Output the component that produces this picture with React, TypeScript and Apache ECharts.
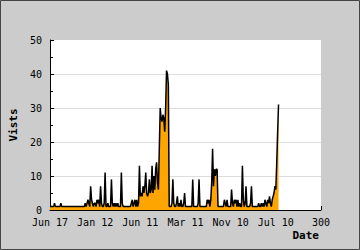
import React, { useEffect, useRef } from "react";
import * as echarts from "echarts";

// Daily visits (index = x position on the 0..300 axis)
const visits: number[] = [
  1, 1, 1, 1, 1, 2, 1, 1, 1, 1,
  1, 1, 2, 1, 1, 1, 1, 1, 1, 1,
  1, 1, 1, 1, 1, 1, 1, 1, 1, 1,
  1, 1, 1, 1, 1, 1, 1, 1, 1, 2,
  1, 2, 3, 2, 1, 7, 3, 2, 1, 2,
  2, 1, 3, 2, 3, 1, 7, 2, 1, 1,
  2, 11, 1, 1, 2, 1, 1, 1, 9, 2,
  1, 2, 1, 2, 1, 2, 1, 1, 1, 11,
  2, 1, 1, 1, 1, 1, 1, 1, 1, 1,
  2, 3, 1, 2, 3, 1, 3, 1, 2, 13,
  4, 5, 4, 7, 5, 7, 11, 5, 4, 5,
  9, 5, 6, 13, 5, 10, 6, 12, 14, 8,
  6, 18, 30, 27, 26, 28, 27, 23, 30, 41,
  40, 37, 1, 1, 1, 2, 9, 2, 1, 1,
  2, 4, 1, 2, 1, 3, 1, 1, 2, 5,
  1, 1, 1, 1, 1, 1, 1, 1, 9, 1,
  1, 1, 1, 1, 2, 9, 1, 1, 1, 1,
  1, 1, 1, 1, 3, 2, 3, 1, 3, 8,
  18, 7, 12, 10, 12, 12, 1, 1, 1, 1,
  1, 1, 1, 3, 2, 1, 3, 1, 1, 1,
  1, 6, 2, 1, 3, 2, 3, 1, 3, 1,
  2, 1, 1, 13, 3, 1, 2, 7, 1, 1,
  1, 1, 2, 7, 1, 1, 1, 1, 1, 1,
  1, 2, 1, 1, 2, 1, 2, 1, 3, 2,
  1, 3, 2, 4, 2, 1, 3, 4, 5, 7,
  6, 14, 23, 31,
];

// x tick values and their labels
const xTickValues: number[] = [0, 50, 100, 150, 200, 250, 300];
const xTickLabels: string[] = ["Jun 17", "Jan 12", "Jun 11", "Mar 11", "Nov 10", "Jul 10", "300"];

const MONO = "'DejaVu Sans Mono', monospace";

export default function App() {
  const ref = useRef<HTMLDivElement>(null);

  useEffect(() => {
    if (!ref.current) return;
    const chart = echarts.init(ref.current, undefined, { renderer: "svg" });
    const data = visits.map((v, i) => [i, v]);
    chart.setOption({
      animation: false,
      backgroundColor: "#cccccc",
      grid: {
        left: 41,
        right: 39,
        top: 40,
        bottom: 40,
        show: true,
        backgroundColor: "#ffffff",
        borderWidth: 0,
      },
      graphic: [
        {
          type: "rect",
          shape: { x: 0.5, y: 0.5, width: 359, height: 249 },
          style: { fill: "none", stroke: "#444444", lineWidth: 1 },
          silent: true,
        },
      ],
      xAxis: {
        type: "value",
        min: 0,
        max: 300,
        interval: 50,
        name: "Date",
        nameLocation: "end",
        nameGap: -2,
        nameTextStyle: {
          fontFamily: MONO,
          fontSize: 11,
          fontWeight: "bold",
          color: "#000",
          align: "right",
          verticalAlign: "top",
          padding: [20, 0, 0, 0],
        },
        axisLine: { show: true, onZero: false, lineStyle: { color: "#000", width: 1 } },
        axisTick: { show: true, inside: true, length: 4, lineStyle: { color: "#000" } },
        splitLine: { show: false },
        axisLabel: {
          margin: 7,
          fontFamily: MONO,
          fontSize: 10,
          color: "#000",
          showMinLabel: true,
          showMaxLabel: true,
          formatter: (val: number) => {
            const idx = xTickValues.indexOf(val);
            return idx >= 0 ? xTickLabels[idx] : String(val);
          },
        },
      },
      yAxis: {
        type: "value",
        min: 0,
        max: 50,
        interval: 10,
        name: "Vists",
        nameLocation: "middle",
        nameGap: 31,
        nameTextStyle: {
          fontFamily: MONO,
          fontSize: 11,
          fontWeight: "bold",
          color: "#000",
        },
        axisLine: { show: true, lineStyle: { color: "#000", width: 1 } },
        axisTick: { show: true, inside: true, length: 4, lineStyle: { color: "#000" } },
        minorTick: { show: true, splitNumber: 2, length: 3, lineStyle: { color: "#000" } },
        splitLine: {
          show: true,
          lineStyle: { color: ["#ffffff", "#dddddd", "#dddddd", "#dddddd", "#dddddd", "#ffffff"], width: 1 },
        },
        axisLabel: {
          margin: 8,
          fontFamily: MONO,
          fontSize: 10,
          color: "#000",
        },
      },
      series: [
        {
          type: "line",
          data,
          showSymbol: false,
          symbol: "none",
          lineStyle: { color: "#000000", width: 1.5 },
          areaStyle: { color: "#ffa500", opacity: 1 },
          z: 3,
        },
      ],
    });
    return () => chart.dispose();
  }, []);

  return (
    <div
      ref={ref}
      style={{ position: "fixed", left: 0, top: 0, width: 360, height: 250 }}
    />
  );
}
